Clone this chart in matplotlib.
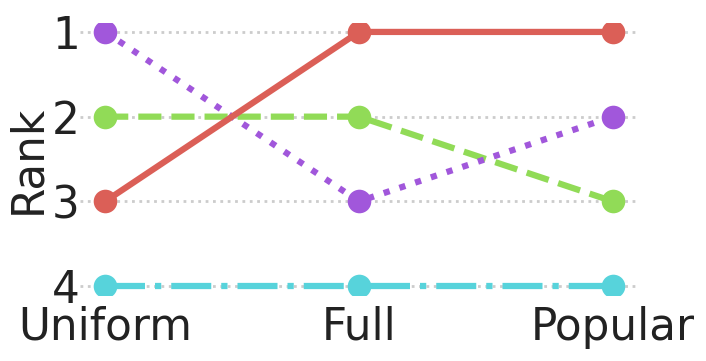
import matplotlib
matplotlib.use("Agg")
import matplotlib.pyplot as plt

categories = ["Uniform", "Full", "Popular"]
series_names = ["red", "green", "cyan", "purple"]
red_ranks = [3, 1, 1]
green_ranks = [2, 2, 3]
cyan_ranks = [4, 4, 4]
purple_ranks = [1, 3, 2]

colors = {"red": "#db5f57", "green": "#91db57", "cyan": "#57d3db", "purple": "#a157db"}
styles = {"red": "-", "green": "--", "cyan": "-.", "purple": ":"}
data = {"red": red_ranks, "green": green_ranks, "cyan": cyan_ranks, "purple": purple_ranks}

fig = plt.figure(figsize=(7.06, 3.61), dpi=100)
ax = fig.add_axes([0.113, 0.184, 0.791, 0.751])
x = list(range(len(categories)))
for name in ["green", "cyan", "purple", "red"]:
    ax.plot(x, data[name], color=colors[name], linestyle=styles[name], lw=4.5,
            marker="o", markersize=17, markeredgewidth=0, zorder=3)

ax.set_xlim(-0.1, 2.1)
ax.set_ylim(4.1, 0.9)
ax.set_yticks([1, 2, 3, 4])
ax.set_xticks(x)
ax.set_xticklabels(categories)
ax.tick_params(axis="both", length=0, labelsize=31.5, colors="#222222")
ax.tick_params(axis="x", pad=8)
ax.tick_params(axis="y", pad=0)
ax.set_ylabel("Rank", fontsize=31.5, color="#222222", labelpad=2)
ax.yaxis.grid(True, linestyle=":", color="#cccccc", lw=2)
ax.xaxis.grid(False)
for s in ax.spines.values():
    s.set_visible(False)
fig.savefig("out.png", dpi=100)
